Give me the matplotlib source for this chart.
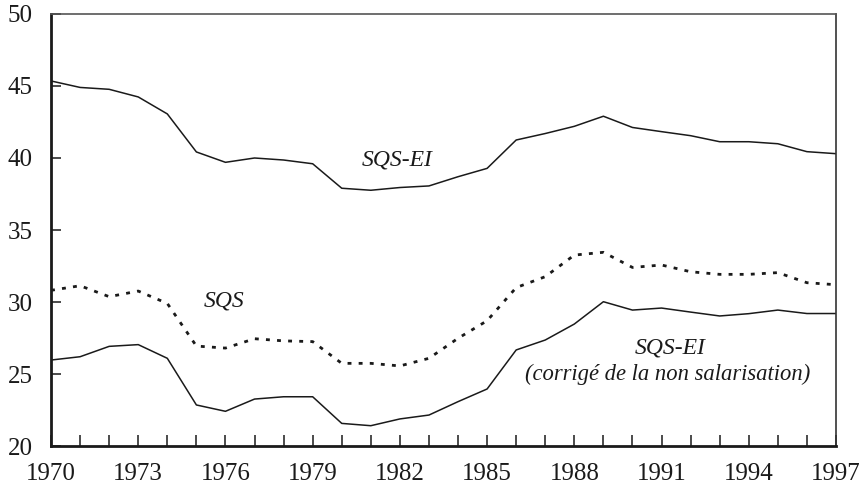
"""Taux de marge : SQS, SQS-EI et SQS-EI corrigé de la non salarisation, 1970-1997."""

import matplotlib

matplotlib.use("Agg")
import matplotlib.pyplot as plt
from matplotlib.ticker import MultipleLocator

plt.rcParams["font.family"] = ["Liberation Serif", "DejaVu Serif"]

years = list(range(1970, 1998))
year_ticks = list(range(1970, 1998, 3))

sqs_ei = [45.35, 44.9, 44.77, 44.24, 43.06, 40.42, 39.7, 40.0, 39.86, 39.6,
          37.9, 37.76, 37.95, 38.06, 38.7, 39.28, 41.25, 41.7, 42.2, 42.9,
          42.12, 41.83, 41.55, 41.13, 41.13, 40.99, 40.44, 40.3]

sqs = [30.81, 31.13, 30.37, 30.76, 29.9, 26.94, 26.8, 27.45, 27.3, 27.25,
       25.74, 25.74, 25.56, 26.09, 27.48, 28.7, 31.0, 31.76, 33.26, 33.45,
       32.4, 32.57, 32.1, 31.92, 31.92, 32.04, 31.34, 31.2]

sqs_ei_corr = [25.97, 26.2, 26.92, 27.04, 26.09, 22.85, 22.41, 23.26, 23.42, 23.42,
               21.57, 21.41, 21.88, 22.15, 23.08, 23.96, 26.67, 27.36, 28.47, 30.02,
               29.44, 29.58, 29.3, 29.03, 29.19, 29.44, 29.2, 29.2]

ink = "#1a1a1a"

fig = plt.figure(figsize=(8.62, 4.98), dpi=100)
ax = fig.add_axes([0.0592, 0.1044, 0.9106, 0.8675])

ax.plot(years, sqs_ei, color=ink, linewidth=1.1)
ax.plot(years, sqs, color=ink, linewidth=2.0, linestyle=(0, (1.4, 2.6)))
ax.plot(years, sqs_ei_corr, color=ink, linewidth=1.1)

ax.text(1981.9, 39.85, "SQS-EI", style="italic", fontsize=17, ha="center", va="center", color=ink)
ax.text(1975.95, 30.1, "SQS", style="italic", fontsize=17, ha="center", va="center", color=ink)
ax.text(1991.3, 26.8, "SQS-EI", style="italic", fontsize=17, ha="center", va="center", color=ink)
ax.text(1991.2, 24.95, "(corrigé de la non salarisation)", style="italic", fontsize=16.3,
        ha="center", va="center", color=ink)

ax.set_xlim(1970, 1997)
ax.set_ylim(20, 50)
ax.set_xticks(year_ticks)
ax.xaxis.set_minor_locator(MultipleLocator(1))
ax.yaxis.set_major_locator(MultipleLocator(5))

ax.tick_params(axis="both", which="both", direction="in", colors=ink, labelsize=18)
ax.tick_params(axis="x", which="both", length=8, width=1.1, pad=12)
ax.tick_params(axis="y", which="major", length=7, width=1.1, pad=13)
ax.tick_params(top=False, right=False)

ax.spines["left"].set_linewidth(2.0)
ax.spines["bottom"].set_linewidth(2.0)
ax.spines["left"].set_color(ink)
ax.spines["bottom"].set_color(ink)
ax.spines["top"].set_linewidth(1.2)
ax.spines["top"].set_color("#555555")
ax.spines["right"].set_linewidth(1.2)
ax.spines["right"].set_color("#333333")

fig.savefig("out.png", dpi=100)
plt.close(fig)
